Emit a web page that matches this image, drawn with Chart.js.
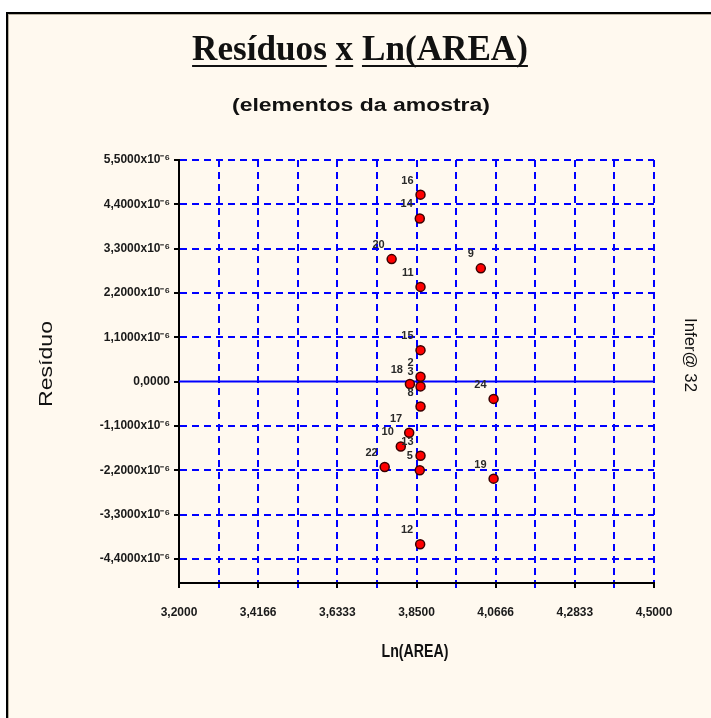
<!DOCTYPE html>
<html>
<head>
<meta charset="utf-8">
<script src="https://cdn.jsdelivr.net/npm/chart.js@4.4.1/dist/chart.umd.min.js"></script>
<style>
  html, body { margin: 0; background: #fff; }
  #wrap { width: 711px; height: 718px; }
</style>
</head>
<body>
<div id="wrap"><canvas id="c" width="711" height="718"></canvas></div>
<script>
// sample elements: label, Ln(AREA), residual (in units of 10^-6)
const pointLabels = ["16", "14", "20", "9", "11", "15", "2", "18", "3", "8", "24", "17", "10", "13", "22", "5", "19", "12"];
const lnArea      = [3.861, 3.859, 3.782, 4.026, 3.861, 3.861, 3.861, 3.832, 3.861, 3.861, 4.061, 3.830, 3.807, 3.861, 3.763, 3.859, 4.061, 3.860];
const residuals   = [4.64, 4.05, 3.04, 2.81, 2.35, 0.78, 0.12, -0.06, -0.12, -0.62, -0.43, -1.27, -1.61, -1.84, -2.12, -2.20, -2.41, -4.04];

const xTicks      = [3.2, 3.30833, 3.41667, 3.525, 3.63333, 3.74167, 3.85, 3.95833, 4.06667, 4.175, 4.28333, 4.39167, 4.5];
const xTickLabels = ["3,2000", "", "3,4166", "", "3,6333", "", "3,8500", "", "4,0666", "", "4,2833", "", "4,5000"];
const yTicks      = [-4.4, -3.3, -2.2, -1.1, 0, 1.1, 2.2, 3.3, 4.4, 5.5];
const yTickLabels = ["-4,4000x10⁻⁶", "-3,3000x10⁻⁶", "-2,2000x10⁻⁶", "-1,1000x10⁻⁶", "0,0000",
                     "1,1000x10⁻⁶", "2,2000x10⁻⁶", "3,3000x10⁻⁶", "4,4000x10⁻⁶", "5,5000x10⁻⁶"];

const BLUE = "#0000ff";
const CREAM = "#fff9ef";
const SANS = "'Liberation Sans', Arial, sans-serif";

const panelPlugin = {
  id: "panel",
  beforeDraw(chart) {
    const ctx = chart.ctx;
    ctx.save();
    ctx.fillStyle = "#fff";
    ctx.fillRect(0, 0, chart.width, chart.height);
    ctx.fillStyle = CREAM;
    ctx.fillRect(8, 14, chart.width, chart.height);
    ctx.fillStyle = "#000";
    ctx.fillRect(6, 12, chart.width, 2);
    ctx.fillRect(6, 12, 2, chart.height);
    ctx.fillStyle = "#b8b0a0";
    ctx.fillRect(8, 14, chart.width, 1);
    ctx.fillRect(8, 14, 1, chart.height);
    ctx.restore();
  }
};

const labelPlugin = {
  id: "pointLabels",
  afterDatasetsDraw(chart) {
    const ctx = chart.ctx;
    const meta = chart.getDatasetMeta(0);
    ctx.save();
    ctx.font = `bold 11px ${SANS}`;
    ctx.fillStyle = "#2a2a2a";
    ctx.textAlign = "right";
    ctx.textBaseline = "middle";
    meta.data.forEach((pt, i) => {
      ctx.fillText(pointLabels[i], pt.x - 7, pt.y - 14);
    });
    ctx.restore();
  }
};

function fitFont(ctx, text, style, family, target) {
  ctx.font = `${style} 20px ${family}`;
  const w = ctx.measureText(text).width;
  return 20 * target / w;
}

// draw text centred at (cx, cy), stretched horizontally to a given width
function drawStretched(ctx, text, cx, cy, font, width, rot) {
  ctx.save();
  ctx.font = font;
  ctx.textAlign = "center";
  ctx.textBaseline = "middle";
  const w = ctx.measureText(text).width;
  ctx.translate(cx, cy);
  if (rot) ctx.rotate(rot);
  ctx.scale(width / w, 1);
  ctx.fillText(text, 0, 0);
  ctx.restore();
}

const textPlugin = {
  id: "texts",
  afterDraw(chart) {
    const ctx = chart.ctx;
    ctx.save();
    ctx.fillStyle = "#111";

    // title, words underlined
    const serif = "'Liberation Serif', 'Times New Roman', serif";
    const ts = fitFont(ctx, "Resíduos x Ln(AREA)", "bold", serif, 336);
    ctx.font = `bold ${ts}px ${serif}`;
    ctx.textBaseline = "alphabetic";
    ctx.textAlign = "left";
    const words = ["Resíduos", "x", "Ln(AREA)"];
    const space = ctx.measureText(" ").width;
    let x = 360 - ctx.measureText("Resíduos x Ln(AREA)").width / 2;
    words.forEach(w => {
      const ww = ctx.measureText(w).width;
      ctx.fillText(w, x, 60);
      ctx.fillRect(x, 65, ww, 2);
      x += ww + space;
    });

    // subtitle and axis titles
    drawStretched(ctx, "(elementos da amostra)", 361, 106, `bold 18px ${SANS}`, 258, 0);
    drawStretched(ctx, "Ln(AREA)", 415, 652, `bold 18px ${SANS}`, 67, 0);
    drawStretched(ctx, "Resíduo", 47, 364, `19px ${SANS}`, 86, -Math.PI / 2);
    drawStretched(ctx, "Infer@ 32", 690, 355, `17px ${SANS}`, 74, Math.PI / 2);

    ctx.restore();
  }
};

new Chart(document.getElementById("c"), {
  type: "scatter",
  data: {
    datasets: [
      {
        data: lnArea.map((v, i) => ({ x: v, y: residuals[i] })),
        backgroundColor: "#ff0000",
        borderColor: "#3a0000",
        borderWidth: 1.5,
        pointRadius: 4.5,
        pointHoverRadius: 4.5,
        order: 0
      },
      {
        type: "line",
        data: [{ x: xTicks[0], y: 0 }, { x: xTicks[xTicks.length - 1], y: 0 }],
        borderColor: BLUE,
        borderWidth: 2,
        pointRadius: 0,
        order: 1
      }
    ]
  },
  options: {
    responsive: false,
    animation: false,
    events: [],
    layout: { padding: { left: 0, right: 57, top: 160, bottom: 0 } },
    plugins: { legend: { display: false }, tooltip: { enabled: false } },
    scales: {
      x: {
        type: "linear",
        min: 3.2, max: 4.5,
        afterBuildTicks: s => { s.ticks = xTicks.map(v => ({ value: v })); },
        afterFit: s => { s.height = 135; },
        ticks: {
          autoSkip: false, maxRotation: 0, padding: 17,
          color: "#1a1a1a",
          font: { size: 12, weight: "bold", family: SANS },
          callback: (v, i) => xTickLabels[i]
        },
        grid: {
          color: BLUE, lineWidth: 2, tickLength: 5,
          tickColor: c => (c.index % 2 ? BLUE : "#000"),
          tickWidth: 2
        },
        border: { color: "#000", width: 2, dash: [7, 5] }
      },
      y: {
        type: "linear",
        min: -5.0, max: 5.5,
        afterBuildTicks: s => { s.ticks = yTicks.map(v => ({ value: v })); },
        afterFit: s => { s.width = 179; },
        ticks: {
          autoSkip: false, padding: 4,
          color: "#1a1a1a",
          font: { size: 12, weight: "bold", family: SANS },
          callback: (v, i) => yTickLabels[i]
        },
        grid: {
          color: c => (c.tick && c.tick.value === 0 ? "rgba(0,0,0,0)" : BLUE),
          lineWidth: 2, tickLength: 5, tickColor: "#000", tickWidth: 2
        },
        border: { color: "#000", width: 2, dash: [7, 5] }
      }
    }
  },
  plugins: [panelPlugin, labelPlugin, textPlugin]
});
</script>
</body>
</html>
